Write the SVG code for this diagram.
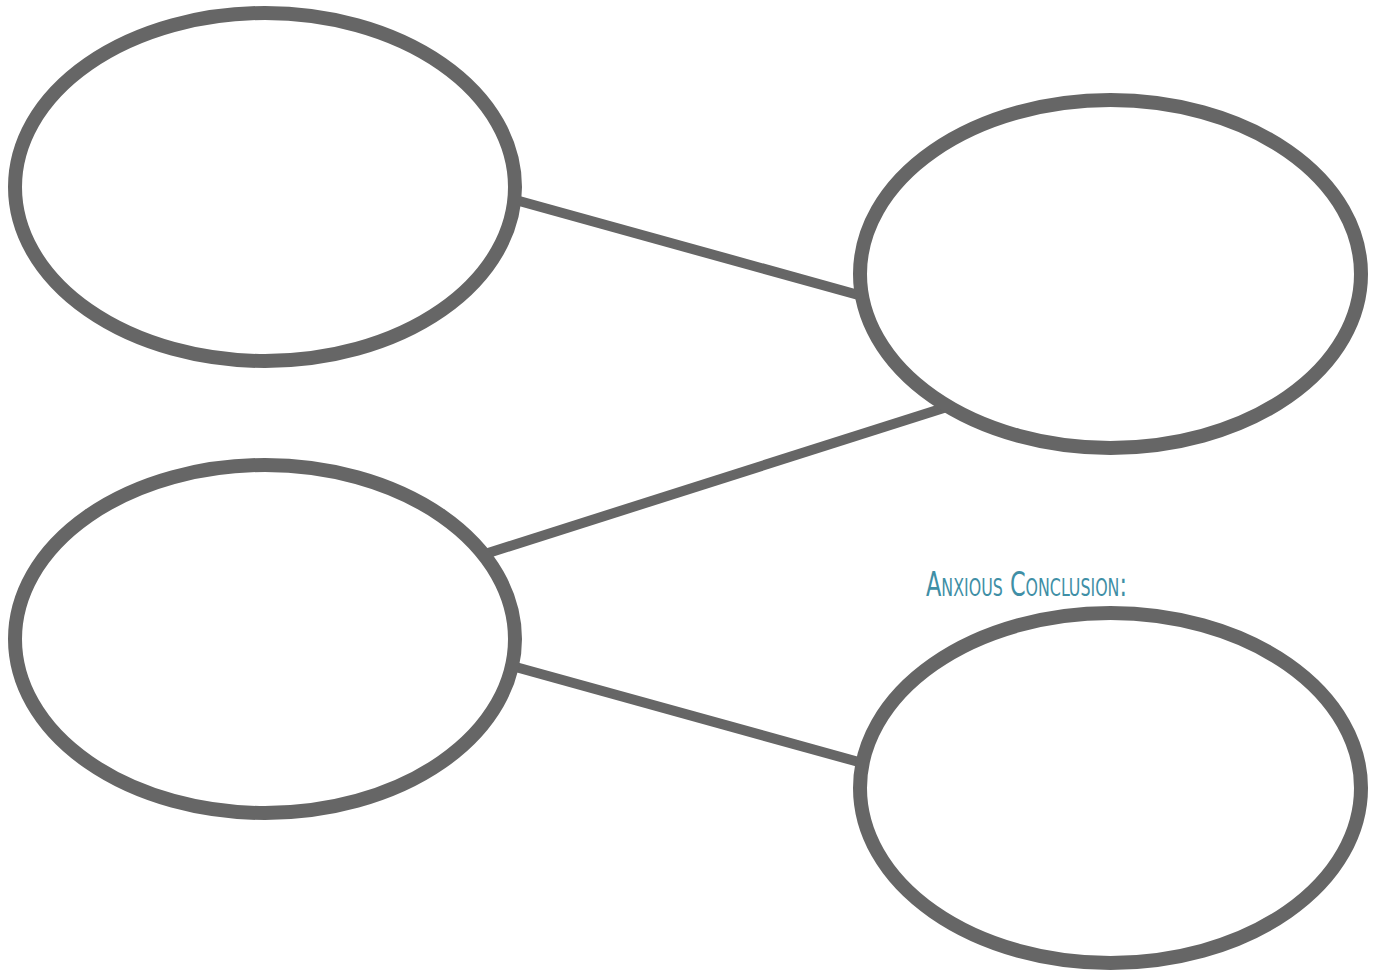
<svg xmlns="http://www.w3.org/2000/svg" width="1374" height="971" viewBox="0 0 1374 971">
  <style>
    .bubble { fill: #ffffff; stroke: #666666; stroke-width: 14; }
    .link { stroke: #666666; stroke-width: 10; stroke-linecap: butt; fill: none; }
    .label { font-family: "DejaVu Sans Condensed", "Liberation Sans", sans-serif; font-variant: small-caps; fill: #3f8fa6; font-size: 34px; }
  </style>
  <rect width="1374" height="971" fill="#ffffff"/>
  <!-- connectors drawn first so the ellipses sit on top of their ends -->
  <g id="connectors">
    <line class="link" x1="512" y1="199" x2="862" y2="296"/>
    <line class="link" x1="485" y1="554" x2="950" y2="406"/>
    <line class="link" x1="512" y1="666" x2="866" y2="764"/>
  </g>
  <g id="node-top-left">
    <ellipse class="bubble" cx="265" cy="187" rx="250" ry="174"/>
  </g>
  <g id="node-top-right">
    <ellipse class="bubble" cx="1110.5" cy="274" rx="250.5" ry="174"/>
  </g>
  <g id="node-bottom-left">
    <ellipse class="bubble" cx="265" cy="639" rx="250" ry="174"/>
  </g>
  <g id="node-bottom-right">
    <ellipse class="bubble" cx="1110.5" cy="788" rx="250.5" ry="175"/>
    <text class="label" x="926" y="596" textLength="201" lengthAdjust="spacingAndGlyphs">Anxious Conclusion:</text>
  </g>
</svg>
